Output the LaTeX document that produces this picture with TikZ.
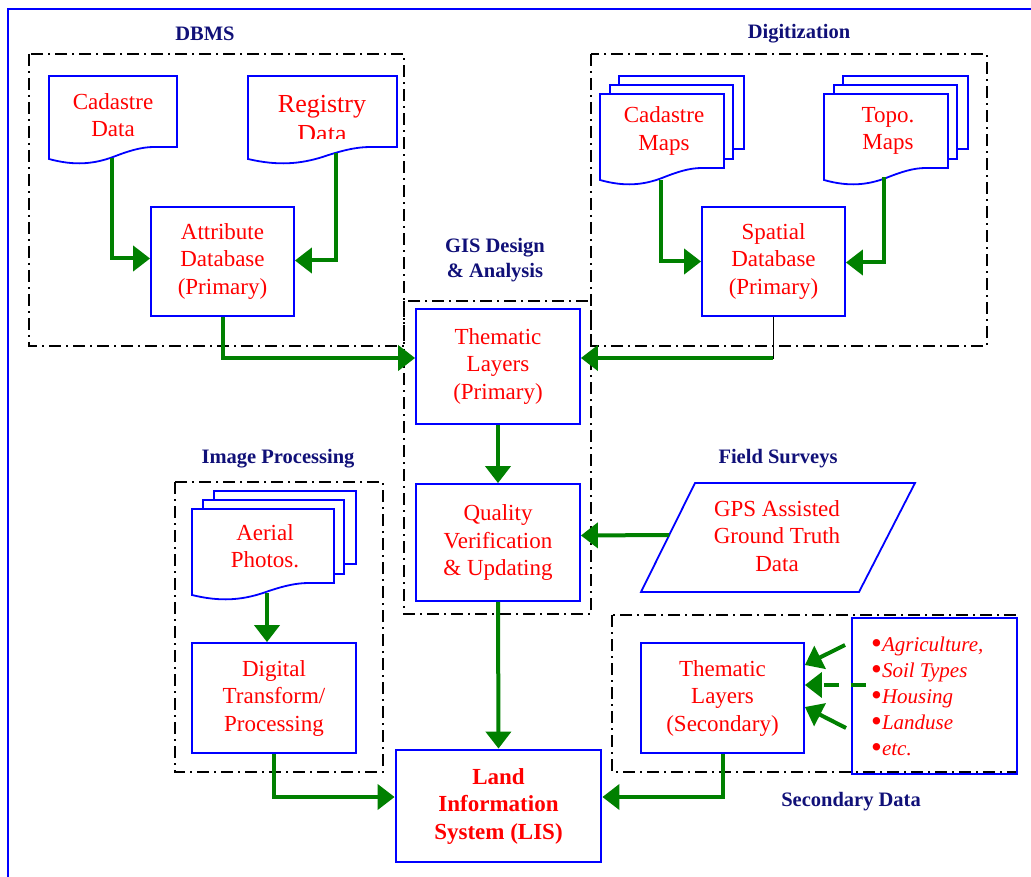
\documentclass[tikz,border=0pt]{standalone}
\usepackage{fontspec}
\setmainfont{Liberation Serif}
\usetikzlibrary{arrows.meta,shapes.geometric}
\definecolor{dkgreen}{RGB}{0,128,0}
\definecolor{lblue}{RGB}{0,0,255}
\definecolor{lred}{RGB}{255,0,0}
\definecolor{lnavy}{RGB}{16,16,120}
\tikzset{
 box/.style={draw=lblue, line width=1.8pt},
 wbox/.style={draw=lblue, line width=1.8pt, fill=white},
 txt/.style={text=lred, font=\fontsize{23}{27.5}\selectfont, align=center, inner sep=0pt},
 grp/.style={draw=black, line width=1.8pt, dash pattern=on 12pt off 5pt on 2pt off 5pt},
 lbl/.style={text=lnavy, font=\fontsize{20.5}{25}\selectfont\bfseries, align=center, inner sep=0pt},
 flow/.style={draw=dkgreen, line width=4pt, -{Triangle[length=17pt,width=25pt]}},
}
\newcommand{\docshp}[4]{%
  \draw[wbox] (#1,#2) -- (#3,#2) -- (#3,#4) -- ({#1+0.82*(#3-#1)},#4)
   .. controls ({#1+0.72*(#3-#1)},#4) and ({#1+0.62*(#3-#1)},{#4+4}) .. ({#1+0.5*(#3-#1)},{#4+10})
   .. controls ({#1+0.35*(#3-#1)},{#4+17}) and ({#1+0.2*(#3-#1)},{#4+19}) .. (#1,{#4+12}) -- cycle;}
\newcommand{\bdot}{\smash{\raisebox{-2.5pt}{\textup{\fontsize{31}{26}\selectfont •}}}}
\begin{document}
\begin{tikzpicture}[x=1pt,y=-1pt]
\useasboundingbox (0,0) rectangle (1031,877);
\clip (0,0) rectangle (1031,877);
\fill[white] (0,0) rectangle (1031,877);
% outer border
\draw[lblue, line width=2pt] (8,9) rectangle (1050,900);

% group boxes
\draw[grp] (29,54) rectangle (404,346);
\draw[grp] (591,54) rectangle (987,346);
\draw[grp] (404,301) rectangle (591,614);
\draw[grp] (175,482) rectangle (383,772);
\draw[grp] (612,615) rectangle (1017,772);

% labels
\node[lbl] (lbdbms) at (205,34) {DBMS};
\node[lbl] (lbdig) at (799,34) {Digitization};
\node[lbl] (lbgis) at (495,260) {GIS Design\\\& Analysis};
\node[lbl] (lbimg) at (278,459) {Image Processing};
\node[lbl] (lbfld) at (778,459) {Field Surveys};
\node[lbl] (lbsec) at (851,802) {Secondary Data};

% documents (DBMS)
\docshp{49}{76}{177}{147}
\node[txt] (cdata) at (113,115) {Cadastre\\Data};
\docshp{248}{76}{397}{147}
\begin{scope}
\clip (248,76) rectangle (397,139);
\node[txt, font=\fontsize{26}{30}\selectfont] (rdata) at (322,119) {Registry\\Data};
\end{scope}
\coordinate (cdb) at (112,158);
\coordinate (rdb) at (336,153);

% documents (Digitization)
\draw[wbox] (619,76) rectangle (744,149);
\draw[wbox] (610,85) rectangle (733,159);
\docshp{600}{94}{724}{168}
\node[txt] (cmaps) at (664,131) {Cadastre\\Maps};
\draw[wbox] (843,76) rectangle (968,149);
\draw[wbox] (834,85) rectangle (957,159);
\docshp{824}{94}{948}{168}
\node[txt] (tmaps) at (888,131) {Topo.\\Maps};
\coordinate (cmb) at (661,180);
\coordinate (tmb) at (884,177);

% documents (Image)
\draw[wbox] (214,491) rectangle (356,564);
\draw[wbox] (203,500) rectangle (344,574);
\docshp{192}{509}{334}{583}
\node[txt] (aerial) at (265,546) {Aerial\\Photos.};
\coordinate (apb) at (267,593);

% boxes
\node[box, txt, minimum width=143pt, minimum height=109pt] (attr) at (222.5,261.5) {Attribute\\Database\\(Primary)};
\node[box, txt, minimum width=143pt, minimum height=109pt] (spat) at (773.5,261.5) {Spatial\\Database\\(Primary)};
\node[box, txt, minimum width=164pt, minimum height=115pt] (them1) at (498,366.5) {Thematic\\Layers\\(Primary)};
\node[box, txt, minimum width=164pt, minimum height=117pt] (qual) at (498,542.5) {Quality\\Verification\\\& Updating};
\node[box, txt, minimum width=164pt, minimum height=110pt] (digi) at (274,698) {Digital\\Transform/\\Processing};
\node[box, txt, minimum width=163pt, minimum height=110pt] (them2) at (722.5,698) {Thematic\\Layers\\(Secondary)};
\node[draw=lblue, line width=2.8pt, txt, font=\fontsize{23}{27.5}\selectfont\bfseries, minimum width=205pt, minimum height=112pt] (lis) at (498.5,806) {Land\\Information\\System (LIS)};

% GPS parallelogram
\draw[box] (695,483) -- (915,483) -- (859,592) -- (641,592) -- cycle;
\node[txt] (gps) at (777,536) {GPS Assisted\\Ground Truth\\Data};
\coordinate (gpsl) at (669,535);

% bullet box
\draw[box] (852,618) rectangle (1017,774);
\node[txt, align=left, anchor=west, font=\fontsize{21}{26}\selectfont\itshape] (bul) at (871,696)
 {\bdot Agriculture,\\\bdot Soil Types\\\bdot Housing\\\bdot Landuse\\\bdot etc.};
\coordinate (b1) at (845,645);
\coordinate (b2) at (866,685);
\coordinate (b3) at (846,728);

% connectors
\draw[flow] (cdb) |- ([yshift=3pt]attr.west);
\draw[flow] (rdb) |- ([yshift=1pt]attr.east);
\draw[flow] (attr.south) |- ([yshift=8.5pt]them1.west);
\coordinate (t1e) at ([yshift=8.5pt]them1.east);
\coordinate (sj) at (spat.south |- t1e);
\draw[black, line width=1.5pt] (spat.south) -- ([yshift=-0.75pt]sj);
\draw[flow] ([xshift=-0.75pt]sj) -- (t1e);
\draw[flow] (cmb) |- (spat.west);
\draw[flow] (tmb) |- ([yshift=-1pt]spat.east);
\draw[flow] (them1.south) -- (qual.north);
\draw[flow] (gpsl) -- ([yshift=7pt]qual.east);
\draw[flow] (apb) -- (apb |- digi.north);
\draw[flow] (digi.south) |- ([yshift=9pt]lis.west);
\draw[flow] (qual.south) -- (lis.north);
\draw[flow] (them2.south) |- ([yshift=9pt]lis.east);
\draw[flow] (b1) -- ([yshift=33pt]them2.east);
\draw[flow, dash pattern=on 15pt off 12pt] (b2) -- ([yshift=13pt]them2.east);
\draw[flow] (b3) -- ([yshift=-9pt]them2.east);
\end{tikzpicture}
\end{document}
